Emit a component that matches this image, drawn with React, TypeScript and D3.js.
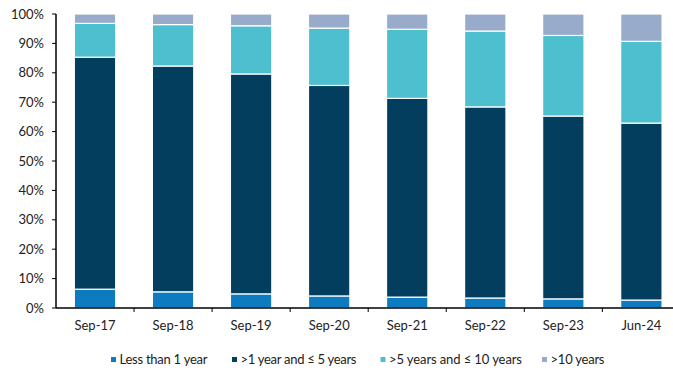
import React from "react";
import * as d3 from "d3";

const categories = ["Sep-17", "Sep-18", "Sep-19", "Sep-20", "Sep-21", "Sep-22", "Sep-23", "Jun-24"];
const seriesNames = ["Less than 1 year", ">1 year and ≤ 5 years", ">5 years and ≤ 10 years", ">10 years"];
const lessThan1 = [6.4, 5.5, 4.8, 4.1, 3.7, 3.4, 3.1, 2.7];
const oneToFive = [78.9, 76.8, 74.8, 71.6, 67.6, 65.0, 62.2, 60.2];
const fiveToTen = [11.5, 14.1, 16.4, 19.5, 23.5, 25.8, 27.4, 27.8];
const overTen = [3.2, 3.6, 4.0, 4.8, 5.2, 5.8, 7.3, 9.3];
const yTicks = [0, 10, 20, 30, 40, 50, 60, 70, 80, 90, 100];
const colors = ["#0c7bbf", "#033e5e", "#4dbfcf", "#98abca"];

const W = 673;
const H = 370;
const margin = { left: 56, top: 14, bottom: 62 };
const plotRight = 680.4;

export default function App() {
  const y = d3.scaleLinear().domain([0, 100]).range([H - margin.bottom, margin.top]);
  const x = d3
    .scaleBand<string>()
    .domain(categories)
    .range([margin.left, plotRight])
    .paddingInner(0.47)
    .paddingOuter(0.235);
  const step = x.step();
  const outerStart = margin.left;

  const rows = categories.map((c, i) => ({
    cat: c,
    s0: lessThan1[i],
    s1: oneToFive[i],
    s2: fiveToTen[i],
    s3: overTen[i],
  }));
  const stacked = d3.stack<any>().keys(["s0", "s1", "s2", "s3"])(rows);

  const font = "Lato, 'Open Sans', sans-serif";
  const legendX = [111, 232, 380.5, 542];
  const legendW = [88, 116, 133, 54];

  return (
    <svg
      width={W}
      height={H}
      style={{ position: "absolute", left: 0, top: 0, background: "#fff" }}
      fontFamily={font}
    >
      {stacked.map((layer, li) => (
        <g key={li} fill={colors[li]}>
          {layer.map((d, i) => (
            <rect
              key={i}
              x={x(categories[i])}
              width={x.bandwidth()}
              y={y(d[1])}
              height={y(d[0]) - y(d[1])}
              stroke="#ffffff"
              strokeWidth={1.2}
            />
          ))}
        </g>
      ))}
      {/* y axis */}
      <line x1={margin.left} x2={margin.left} y1={y(100)} y2={y(0)} stroke="#000" strokeWidth={1.5} />
      {yTicks.map((t) => (
        <g key={t}>
          <line x1={margin.left - 4} x2={margin.left} y1={y(t)} y2={y(t)} stroke="#000" strokeWidth={1} />
          <text x={44} y={y(t)} dy="0.35em" textAnchor="end" fontSize={13} fill="#222">
            {t}%
          </text>
        </g>
      ))}
      {/* x axis */}
      <line x1={margin.left} x2={plotRight} y1={y(0)} y2={y(0)} stroke="#000" strokeWidth={1.5} />
      {categories.map((c, i) => (
        <g key={c}>
          <line
            x1={outerStart + step * (i + 1)}
            x2={outerStart + step * (i + 1)}
            y1={y(0)}
            y2={y(0) + 4}
            stroke="#000"
            strokeWidth={1}
          />
          <text
            x={(x(c) as number) + x.bandwidth() / 2}
            y={330}
            textAnchor="middle"
            fontSize={13}
            fill="#222"
          >
            {c}
          </text>
        </g>
      ))}
      {/* legend */}
      {seriesNames.map((n, i) => (
        <g key={n}>
          <rect x={legendX[i]} y={357} width={5} height={5} fill={colors[i]} />
          <text
            x={legendX[i] + 8.5}
            y={364}
            fontSize={13}
            fill="#222"
            textLength={legendW[i]}
            lengthAdjust="spacing"
          >
            {n}
          </text>
        </g>
      ))}
    </svg>
  );
}
